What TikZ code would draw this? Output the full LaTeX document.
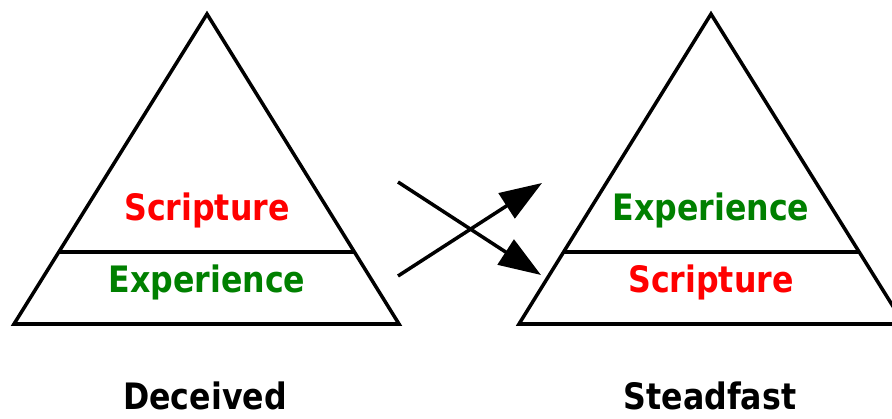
\documentclass[tikz,border=0pt]{standalone}
\usepackage{fontspec}
\usepackage{graphicx}
\setmainfont{DejaVu Sans}
\usetikzlibrary{arrows.meta,calc}

\newcommand{\tallword}[1]{\scalebox{1}[1.15]{#1}}
\tikzset{
  layer/.style={font=\bfseries\fontsize{22.5}{24}\selectfont},
  verdict/.style={font=\bfseries\fontsize{22.5}{24}\selectfont, text=black},
  pyramid/.style={line width=2.5pt, line join=miter},
  swap/.style={line width=2.5pt, -{Triangle[length=30pt, width=21pt]}}
}
\definecolor{scriptred}{RGB}{255,0,0}
\definecolor{expgreen}{RGB}{0,128,0}

\begin{document}
\begin{tikzpicture}[x=0.025cm, y=-0.025cm]
        \useasboundingbox (0,0) rectangle (892,419);
        \clip (0,0) rectangle (892,419);

        % left pyramid
        \coordinate (ltop) at (207,14);
        \coordinate (lleft) at (14,324);
        \coordinate (lright) at (399,324);
        \draw[pyramid] (ltop) -- (lleft) -- (lright) -- cycle;
        \draw[pyramid] ($(ltop)!0.768!(lleft)$) -- ($(ltop)!0.768!(lright)$);
        \node[layer, text=scriptred] (lscr) at (207,210) {\tallword{Scripture}};
        \node[layer, text=expgreen] (lexp) at (207,282) {\tallword{Experience}};
        \node[verdict] (deceived) at (205,396) {\tallword{Deceived}};

        % right pyramid
        \coordinate (rtop) at (711,14);
        \coordinate (rleft) at (519,324);
        \coordinate (rright) at (904,324);
        \draw[pyramid] (rtop) -- (rleft) -- (rright) -- cycle;
        \draw[pyramid] ($(rtop)!0.768!(rleft)$) -- ($(rtop)!0.768!(rright)$);
        \node[layer, text=expgreen] (rexp) at (711,210) {\tallword{Experience}};
        \node[layer, text=scriptred] (rscr) at (711,282) {\tallword{Scripture}};
        \node[verdict] (steadfast) at (710,396) {\tallword{Steadfast}};

        % crossing arrows
        \coordinate (a1) at (398,182);
        \coordinate (b1) at (541,275);
        \coordinate (a2) at (398,276);
        \coordinate (b2) at (542,183);
        \draw[swap] (a1) -- (b1);
        \draw[swap] (a2) -- (b2);
\end{tikzpicture}
\end{document}
